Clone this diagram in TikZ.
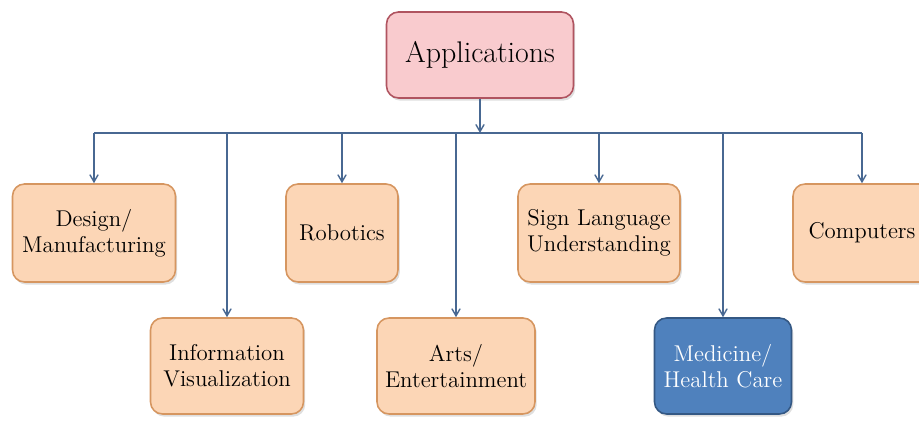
\documentclass[tikz,border=0pt]{standalone}
\usepackage{tikz}
\usetikzlibrary{arrows,calc,positioning,shadows}

\definecolor{pinkfill}{RGB}{249,203,206}
\definecolor{pinkline}{RGB}{176,84,96}
\definecolor{orangefill}{RGB}{252,214,182}
\definecolor{orangeline}{RGB}{214,150,96}
\definecolor{bluefill}{RGB}{79,129,189}
\definecolor{blueline}{RGB}{52,88,132}
\definecolor{linkline}{RGB}{72,104,146}

\begin{document}
\begin{tikzpicture}[x=0.02cm,y=0.02cm,>=angle 60,thin,
	box/.style={rounded corners=0.24cm, draw, line width=0.9pt, align=center,
		font=\fontsize{13}{15}\selectfont, drop shadow={opacity=0.25,shadow xshift=1pt,shadow yshift=-1.5pt}},
	appbox/.style={box, fill=pinkfill, draw=pinkline, font=\fontsize{17}{20}\selectfont},
	areabox/.style={box, fill=orangefill, draw=orangeline},
	hotbox/.style={box, fill=bluefill, draw=blueline, text=white},
	link/.style={draw=linkline, line width=0.8pt}]
	\useasboundingbox (0,0) rectangle (919,425);

	\node[appbox, minimum width=3.74cm, minimum height=1.72cm] (apps) at (480,370) {Applications};

	% upper row
	\node[areabox, minimum width=3.26cm, minimum height=1.96cm] (design) at (94,192) {Design/\\Manufacturing};
	\node[areabox, minimum width=2.24cm, minimum height=1.96cm] (robotics) at (342,192) {Robotics};
	\node[areabox, minimum width=3.24cm, minimum height=1.96cm] (sign) at (599,192) {Sign Language\\Understanding};
	\node[areabox, minimum width=2.76cm, minimum height=1.96cm] (computers) at (862,192) {Computers};

	% lower row
	\node[areabox, minimum width=3.06cm, minimum height=1.92cm] (info) at (227,59) {Information\\Visualization};
	\node[areabox, minimum width=3.16cm, minimum height=1.92cm] (arts) at (456,59) {Arts/\\Entertainment};
	\node[hotbox, minimum width=2.74cm, minimum height=1.92cm] (medicine) at (723,59) {Medicine/\\Health Care};

	\coordinate (bus) at (480,292);

	\draw[link,->] (apps) -- (apps |- bus);
	\draw[link] (design |- bus) -- (computers |- bus);
	\foreach \n in {design,robotics,sign,computers,info,arts,medicine}
		\draw[link,->] (\n |- bus) -- (\n);
\end{tikzpicture}
\end{document}
